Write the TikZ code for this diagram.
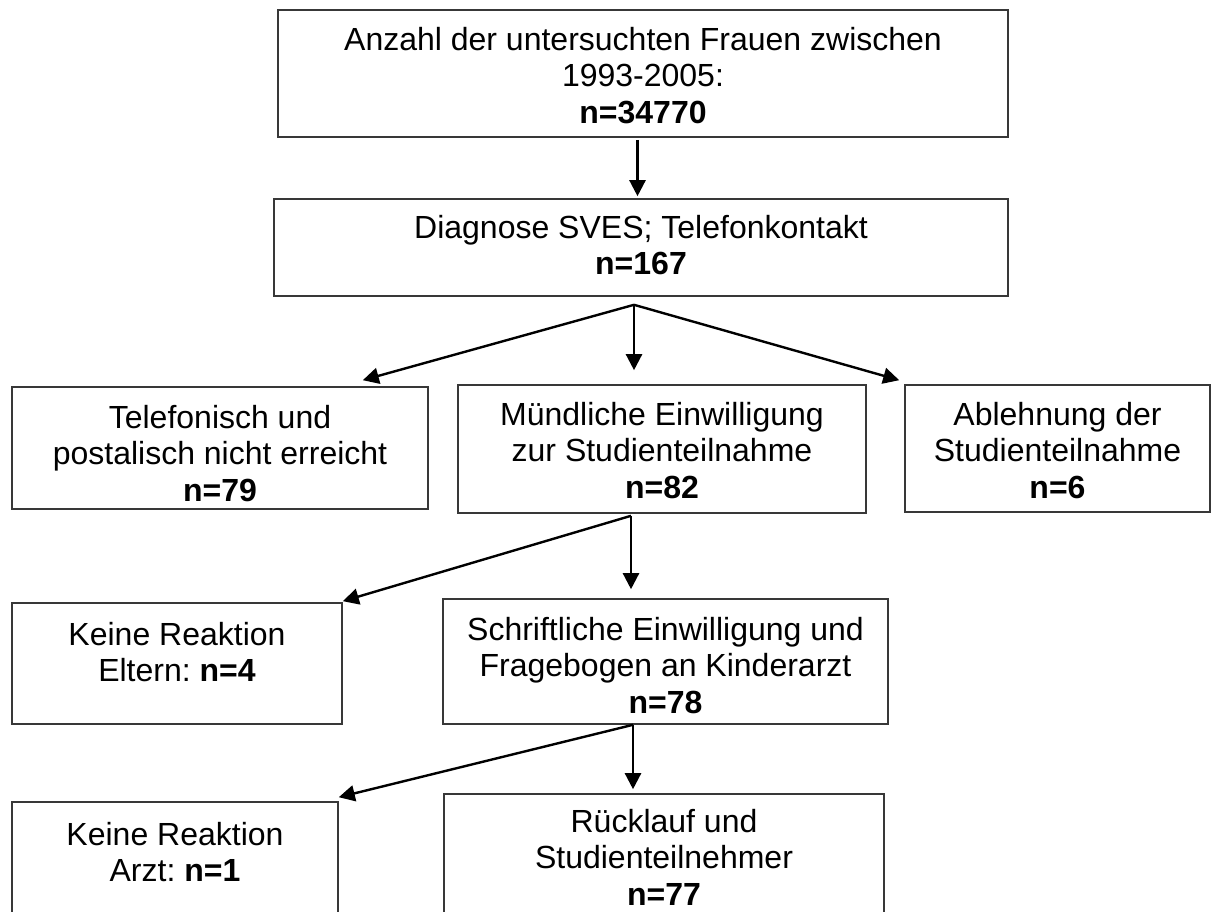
\documentclass[tikz,border=0pt]{standalone}
\usepackage{fontspec}
\setmainfont{Liberation Sans}
\usetikzlibrary{arrows.meta}
\frenchspacing
\newcommand{\firstln}{\rule{0pt}{23.5pt}}
\tikzset{
  box/.style={draw=black!78, line width=1.6pt, rectangle, inner sep=0pt, fill=none},
  txt/.style={anchor=north, inner sep=0pt, align=center, font=\fontsize{32}{36.5}\selectfont},
  arr/.style={draw=black, line width=2.4pt, -{Triangle[length=16pt,width=16pt]}}
}
\begin{document}
\begin{tikzpicture}[x=1pt,y=-1pt]
\clip (0,0) rectangle (1212,912);
\fill[white] (0,0) rectangle (1212,912);
% boxes
\node[box, minimum width=730pt, minimum height=127pt] (b1) at (643,73.5) {};
\node[box, minimum width=734pt, minimum height=97pt] (b2) at (641,247.5) {};
\node[box, minimum width=416pt, minimum height=122pt] (b3a) at (220,448) {};
\node[box, minimum width=408pt, minimum height=128pt] (b3b) at (662,449) {};
\node[box, minimum width=305pt, minimum height=127pt] (b3c) at (1057.5,448.5) {};
\node[box, minimum width=330pt, minimum height=121pt] (b4a) at (177,663.5) {};
\node[box, minimum width=445pt, minimum height=125pt] (b4b) at (665.5,661.5) {};
\node[box, minimum width=326pt, minimum height=148pt] (b5a) at (175,876) {};
\node[box, minimum width=440pt, minimum height=156pt] (b5b) at (664,872) {};
% texts
\node[txt] (t1) at (643,26.5) {\firstln Anzahl der untersuchten Frauen zwischen\\1993-2005:\\\textbf{n=34770}};
\node[txt] (t2) at (641,214.5) {\firstln Diagnose SVES; Telefonkontakt\\\textbf{n=167}};
\node[txt] (t3a) at (220,404.5) {\firstln Telefonisch und\\postalisch nicht erreicht\\\textbf{n=79}};
\node[txt] (t3b) at (662,401.5) {\firstln Mündliche Einwilligung\\zur Studienteilnahme\\\textbf{n=82}};
\node[txt] (t3c) at (1057.5,401.5) {\firstln Ablehnung der\\Studienteilnahme\\\textbf{n=6}};
\node[txt] (t4a) at (177,621.5) {\firstln Keine Reaktion\\Eltern: \textbf{n=4}};
\node[txt] (t4b) at (665.5,616.5) {\firstln Schriftliche Einwilligung und\\Fragebogen an Kinderarzt\\\textbf{n=78}};
\node[txt] (t5a) at (175,821.5) {\firstln Keine Reaktion\\Arzt: \textbf{n=1}};
\node[txt] (t5b) at (664,808.5) {\firstln Rücklauf und\\Studienteilnehmer\\\textbf{n=77}};
% branch points
\coordinate (f1) at ([xshift=-7pt,yshift=-8pt]b2.south);
\coordinate (f2) at ([xshift=-31pt,yshift=-2pt]b3b.south);
\coordinate (f3) at ([xshift=-32.5pt]b4b.south);
% connectors
\draw[arr] ([xshift=-5.5pt,yshift=-2pt]b1.south) -- ([xshift=-3.5pt,yshift=2pt]b2.north);
\draw[arr] (f1) -- ([xshift=-66pt,yshift=6pt]b3a.north east);
\draw[arr] (f1) -- ([xshift=-28pt,yshift=14pt]b3b.north);
\draw[arr] (f1) -- ([xshift=-5pt,yshift=4pt]b3c.north west);
\draw[arr] (f2) -- ([yshift=1pt]b4a.north east);
\draw[arr] (f2) -- ([xshift=-34.5pt,yshift=9pt]b4b.north);
\draw[arr] (f3) -- ([yshift=4pt]b5a.north east);
\draw[arr] (f3) -- ([xshift=-31pt,yshift=4pt]b5b.north);
\end{tikzpicture}
\end{document}
